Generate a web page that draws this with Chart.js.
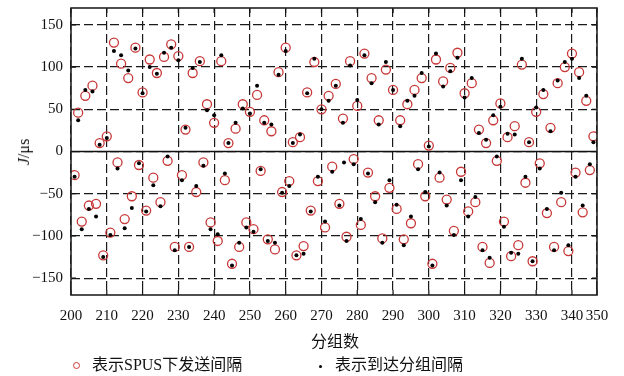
<!DOCTYPE html>
<html>
<head>
<meta charset="utf-8">
<script src="https://cdn.jsdelivr.net/npm/chart.js@4.4.1/dist/chart.umd.min.js"></script>
<style>
  body { margin: 0; background: #fff; }
  #wrap { position: relative; width: 624px; height: 376px; }
  #chart { position: absolute; left: 0; top: 0; }
  .txt { position: absolute; white-space: nowrap; color: #111; font-family: "Liberation Serif", "Noto Sans CJK SC", serif; font-size: 16px; line-height: 16px; }
  #ytitle { left: 24px; top: 152px; transform: translate(-50%, -50%) rotate(-90deg); }
  #xtitle { left: 335px; top: 342px; transform: translate(-50%, -50%); }
  .mark { position: absolute; border-radius: 50%; }
</style>
</head>
<body>
<div id="wrap">
  <canvas id="chart" width="624" height="376"></canvas>
  <div class="txt" id="ytitle"><i>J</i>/μs</div>
  <div class="txt" id="xtitle">分组数</div>
  <div class="mark" style="left:73px;top:362px;width:5px;height:5px;border:1px solid #c83737;"></div>
  <div class="txt" style="left:92px;top:357px;">表示SPUS下发送间隔</div>
  <div class="mark" style="left:319px;top:365px;width:3px;height:3px;background:#000;"></div>
  <div class="txt" style="left:335px;top:357px;">表示到达分组间隔</div>
</div>
<script>
// packet number (x) for every sample
const packetNo = [
    201, 202, 203, 204, 205, 206, 207, 208, 209, 210,
    211, 212, 213, 214, 215, 216, 217, 218, 219, 220,
    221, 222, 223, 224, 225, 226, 227, 228, 229, 230,
    231, 232, 233, 234, 235, 236, 237, 238, 239, 240,
    241, 242, 243, 244, 245, 246, 247, 248, 249, 250,
    251, 252, 253, 254, 255, 256, 257, 258, 259, 260,
    261, 262, 263, 264, 265, 266, 267, 268, 269, 270,
    271, 272, 273, 274, 275, 276, 277, 278, 279, 280,
    281, 282, 283, 284, 285, 286, 287, 288, 289, 290,
    291, 292, 293, 294, 295, 296, 297, 298, 299, 300,
    301, 302, 303, 304, 305, 306, 307, 308, 309, 310,
    311, 312, 313, 314, 315, 316, 317, 318, 319, 320,
    321, 322, 323, 324, 325, 326, 327, 328, 329, 330,
    331, 332, 333, 334, 335, 336, 337, 338, 339, 340,
    341, 342, 343, 344, 345, 346
];

// SPUS send interval (red circles)
const sendGap = [
    -28, 46, -83, 66, -64, 78, -62, 10, -123, 18,
    -96, 129, -13, 104, -80, 87, -53, 123, -16, 70,
    -70, 109, -31, 93, -60, 112, -11, 127, -113, 113,
    -28, 26, -113, 93, -48, 107, -13, 56, -84, 34,
    -106, 107, -34, 10, -133, 27, -113, 56, -84, 47,
    -92, 67, -23, 37, -104, 24, -116, 94, -48, 123,
    -35, 11, -123, 17, -112, 70, -70, 106, -35, 50,
    -90, 66, -18, 80, -62, 39, -101, 107, -9, 54,
    -87, 116, -25, 87, -53, 37, -103, 97, -43, 73,
    -68, 37, -104, 56, -85, 73, -15, 87, -53, 7,
    -133, 109, -31, 83, -57, 99, -94, 117, -24, 69,
    -71, 81, -60, 26, -113, 10, -132, 37, -11, 57,
    -83, 17, -124, 30, -111, 103, -37, 11, -130, 47,
    -14, 68, -73, 28, -113, 81, -60, 100, -118, 116,
    -25, 94, -72, 60, -22, 18
];

// arrival interval (black dots)
const arriveGap = [
    -30, 37, -92, 73, -68, 71, -77, 8, -125, 16,
    -99, 119, -20, 114, -91, 96, -67, 122, -14, 69,
    -71, 100, -40, 92, -65, 117, -6, 123, -117, 108,
    -34, 28, -113, 99, -41, 106, -17, 49, -92, 43,
    -98, 114, -26, 10, -135, 34, -108, 51, -90, 45,
    -95, 78, -21, 34, -106, 32, -108, 91, -49, 119,
    -41, 10, -123, 20, -121, 69, -71, 110, -30, 50,
    -83, 60, -24, 78, -64, 34, -106, 102, -15, 61,
    -80, 114, -26, 81, -60, 32, -108, 106, -34, 73,
    -63, 30, -111, 60, -77, 66, -21, 93, -48, 6,
    -135, 116, -25, 77, -64, 95, -99, 111, -34, 64,
    -77, 87, -54, 22, -117, 14, -126, 43, -6, 53,
    -89, 21, -120, 20, -121, 110, -30, 11, -130, 52,
    -20, 73, -68, 24, -117, 84, -49, 106, -111, 110,
    -30, 87, -64, 66, -15, 11
];

// one stray arrival dot without a matching circle
const strayDotX = [276.3];
const strayDotY = [-13];

const xTickValues = [200, 210, 220, 230, 240, 250, 260, 270, 280, 290, 300, 310, 320, 330, 340, 347];
const xTickLabels = ['200', '210', '220', '230', '240', '250', '260', '270', '280', '290', '300', '310', '320', '330', '340', '350'];
const yTickValues = [-150, -100, -50, 0, 50, 100, 150];

function toPoints(xs, ys) {
    return xs.map((x, i) => ({x: x, y: ys[i]}));
}

const frameAndTicks = {
    id: 'frameAndTicks',
    beforeDatasetsDraw(chart) {
        const {ctx, chartArea: a, scales} = chart;
        ctx.save();
        // solid zero line
        const y0 = scales.y.getPixelForValue(0);
        ctx.strokeStyle = '#111';
        ctx.lineWidth = 1.3;
        ctx.beginPath();
        ctx.moveTo(a.left, y0);
        ctx.lineTo(a.right, y0);
        ctx.stroke();
        // inward tick marks
        ctx.lineWidth = 1.2;
        ctx.beginPath();
        scales.x.ticks.forEach(t => {
            const px = scales.x.getPixelForValue(t.value);
            ctx.moveTo(px, a.bottom); ctx.lineTo(px, a.bottom - 5);
            ctx.moveTo(px, a.top); ctx.lineTo(px, a.top + 5);
        });
        scales.y.ticks.forEach(t => {
            const py = scales.y.getPixelForValue(t.value);
            ctx.moveTo(a.left, py); ctx.lineTo(a.left + 5, py);
            ctx.moveTo(a.right, py); ctx.lineTo(a.right - 5, py);
        });
        ctx.stroke();
        ctx.restore();
    },
    afterDraw(chart) {
        const {ctx, chartArea: a} = chart;
        ctx.save();
        ctx.strokeStyle = '#222';
        ctx.lineWidth = 1.6;
        ctx.strokeRect(a.left, a.top, a.right - a.left, a.bottom - a.top);
        ctx.restore();
    }
};

const ctx = document.getElementById('chart').getContext('2d');
new Chart(ctx, {
    type: 'scatter',
    data: {
        datasets: [
            {
                label: '表示到达分组间隔',
                data: toPoints(packetNo, arriveGap).concat(toPoints(strayDotX, strayDotY)),
                pointRadius: 2,
                pointBackgroundColor: '#000',
                pointBorderWidth: 0
            },
            {
                label: '表示SPUS下发送间隔',
                data: toPoints(packetNo, sendGap),
                pointRadius: 4.5,
                pointBackgroundColor: 'rgba(0,0,0,0)',
                pointBorderColor: '#c83737',
                pointBorderWidth: 1.3
            }
        ]
    },
    options: {
        responsive: false,
        animation: false,
        layout: { padding: { top: 8, right: 27, left: 0, bottom: 0 } },
        plugins: {
            legend: { display: false },
            tooltip: { enabled: false }
        },
        scales: {
            x: {
                type: 'linear',
                min: 200,
                max: 347,
                afterFit: s => { s.height = 81; s.paddingLeft = 0; s.paddingRight = 0; },
                afterBuildTicks: s => { s.ticks = xTickValues.map(v => ({value: v})); },
                grid: { color: '#1a1a1a', lineWidth: 1.2, drawTicks: false },
                border: { display: false, dash: [9, 4] },
                ticks: {
                    padding: 12,
                    color: '#111',
                    font: { family: 'Liberation Serif', size: 15 },
                    maxRotation: 0,
                    autoSkip: false,
                    callback: (v) => xTickLabels[xTickValues.indexOf(v)]
                }
            },
            y: {
                type: 'linear',
                min: -170,
                max: 170,
                afterFit: s => { s.width = 71; s.paddingTop = 0; s.paddingBottom = 0; },
                afterBuildTicks: s => { s.ticks = yTickValues.map(v => ({value: v})); },
                grid: { color: '#1a1a1a', lineWidth: 1.2, drawTicks: false },
                border: { display: false, dash: [9, 4] },
                ticks: {
                    padding: 8,
                    color: '#111',
                    font: { family: 'Liberation Serif', size: 15 },
                    callback: (v) => String(v).replace('-', '\u2212')
                }
            }
        }
    },
    plugins: [frameAndTicks]
});
</script>
</body>
</html>
